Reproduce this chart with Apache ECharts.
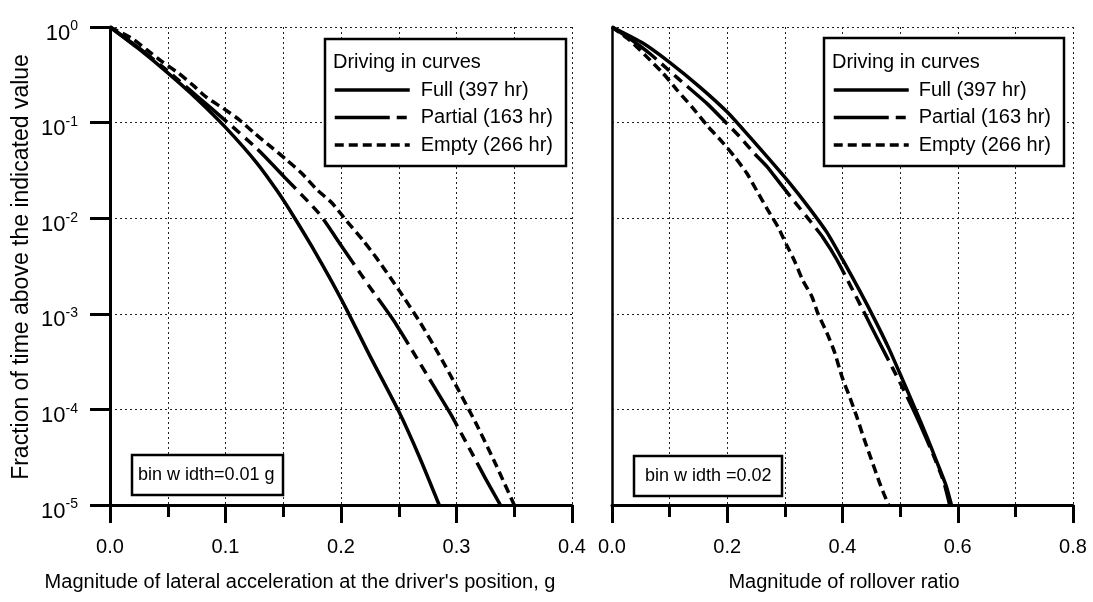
<!DOCTYPE html>
<html><head><meta charset="utf-8">
<script src="https://cdn.jsdelivr.net/npm/echarts@6/dist/echarts.min.js"></script>
<style>html,body{margin:0;padding:0;background:#fff}#c{width:1093px;height:602px}</style>
</head><body><div id="c"></div>
<script>
// ---------- data ----------
const seriesNames = ['Full (397 hr)', 'Partial (163 hr)', 'Empty (266 hr)'];
const legendTitle = 'Driving in curves';

// Left panel: lateral acceleration (g) vs fraction of time above
const latFullX = [0, 0.025, 0.05, 0.075, 0.1, 0.127, 0.145, 0.16, 0.175, 0.19, 0.205, 0.225, 0.25, 0.268, 0.285];
const latFullY = [1, 0.589, 0.331, 0.178, 0.0891, 0.038, 0.0191, 0.01, 0.005, 0.0024, 0.0011, 3.63e-4, 9.55e-5, 3.16e-5, 1e-5];

const latPartX = [0, 0.025, 0.05, 0.075, 0.1, 0.127, 0.151, 0.181, 0.201, 0.225, 0.245, 0.265, 0.28, 0.295, 0.313, 0.325, 0.338];
const latPartY = [1, 0.603, 0.347, 0.191, 0.105, 0.0537, 0.0269, 0.0112, 0.005, 0.0019, 8.7e-4, 3.55e-4, 1.78e-4, 8.9e-5, 3.55e-5, 1.9e-5, 1e-5];

const latEmptyX = [0, 0.019, 0.032, 0.046, 0.059, 0.071, 0.084, 0.098, 0.112, 0.125, 0.14, 0.153, 0.166, 0.179, 0.192, 0.205, 0.219, 0.231, 0.25, 0.268, 0.285, 0.3, 0.317, 0.332, 0.35];
const latEmptyY = [1, 0.759, 0.575, 0.427, 0.331, 0.251, 0.182, 0.141, 0.107, 0.0776, 0.055, 0.0407, 0.0295, 0.02, 0.0145, 0.00933, 0.00589, 0.0038, 0.00178, 8.3e-4, 3.72e-4, 1.74e-4, 7.1e-5, 3.0e-5, 1e-5];

// Right panel: rollover ratio vs fraction of time above
const rolFullX = [0, 0.054, 0.1, 0.153, 0.2, 0.239, 0.274, 0.308, 0.343, 0.373, 0.4, 0.43, 0.456, 0.48, 0.502, 0.525, 0.546, 0.563, 0.58, 0.589];
const rolFullY = [1, 0.676, 0.427, 0.234, 0.129, 0.0708, 0.0407, 0.0234, 0.0126, 0.0071, 0.0037, 0.00174, 8.7e-4, 4.4e-4, 2.2e-4, 1.05e-4, 5.25e-5, 2.9e-5, 1.58e-5, 1e-5];

const rolPartX = [0, 0.033, 0.066, 0.113, 0.165, 0.193, 0.222, 0.245, 0.269, 0.291, 0.317, 0.343, 0.366, 0.39, 0.433, 0.464, 0.487, 0.511, 0.534, 0.557, 0.575, 0.586];
const rolPartY = [1, 0.741, 0.525, 0.295, 0.158, 0.107, 0.0708, 0.049, 0.0347, 0.0234, 0.0148, 0.0095, 0.0063, 0.0037, 0.00117, 5e-4, 2.7e-4, 1.4e-4, 7.1e-5, 3.4e-5, 1.8e-5, 1e-5];

const rolEmptyX = [0, 0.031, 0.06, 0.088, 0.113, 0.139, 0.165, 0.191, 0.213, 0.234, 0.251, 0.27, 0.288, 0.303, 0.317, 0.331, 0.347, 0.357, 0.373, 0.386, 0.399, 0.413, 0.425, 0.437, 0.45, 0.463, 0.472, 0.48];
const rolEmptyY = [1, 0.724, 0.49, 0.331, 0.219, 0.145, 0.0933, 0.063, 0.0437, 0.0295, 0.0195, 0.0123, 0.0081, 0.00525, 0.00355, 0.00224, 0.00151, 0.00102, 6.3e-4, 4.0e-4, 2.2e-4, 1.32e-4, 8.3e-5, 5.0e-5, 3.0e-5, 1.8e-5, 1.3e-5, 1e-5];

const xTitleLeft = "Magnitude of lateral acceleration at the driver's position, g";
const xTitleRight = 'Magnitude of rollover ratio';
const yTitle = 'Fraction of time above the indicated value';
const binLeft = 'bin w idth=0.01 g';
const binRight = 'bin w idth =0.02';

// ---------- chart ----------
const FONT = '"Liberation Sans", Arial, Helvetica, sans-serif';
const pair = (xs, ys) => xs.map((x, i) => [x, ys[i]]);
const dashStyles = ['solid', [55, 7, 10, 7, 10, 7], [9, 5]];
const LW = 3.5;

const chart = echarts.init(document.getElementById('c'), null, {renderer: 'canvas'});

function yAxisCfg(idx, showLabels) {
  return {
    type: 'log', logBase: 10, min: 1e-5, max: 1, gridIndex: idx,
    axisLine: {show: true, lineStyle: {color: '#000', width: showLabels ? 3 : 2.5}},
    axisTick: {show: showLabels, length: 20, lineStyle: {color: '#000', width: 3}},
    minorTick: {show: false},
    splitLine: {show: true, lineStyle: {color: '#222', width: 1, type: [2, 3]}},
    axisLabel: {
      show: showLabels, margin: 32, padding: [7, 0, 0, 0],
      formatter: v => '{b|10}{s|' + Math.round(Math.log10(v)) + '}',
      rich: {
        b: {fontSize: 22, fontFamily: FONT, color: '#000', lineHeight: 22, padding: [6, 0, 0, 0]},
        s: {fontSize: 14, fontFamily: FONT, color: '#000', lineHeight: 14, verticalAlign: 'top'}
      }
    }
  };
}
function xAxisCfg(idx, max, interval) {
  return {
    type: 'value', min: 0, max: max, interval: interval, gridIndex: idx,
    axisLine: {show: true, onZero: false, lineStyle: {color: '#000', width: 3}},
    axisTick: {show: true, length: 18, lineStyle: {color: '#000', width: 3}},
    minorTick: {show: true, splitNumber: 2, length: 12, lineStyle: {color: '#000', width: 3}},
    splitLine: {show: true, lineStyle: {color: '#222', width: 1, type: [2, 3]}},
    minorSplitLine: {show: true, lineStyle: {color: '#222', width: 1, type: [2, 3]}},
    axisLabel: {fontSize: 20, fontFamily: FONT, color: '#000', margin: 32, formatter: v => v.toFixed(1)}
  };
}
function mkSeries(name, xs, ys, idx, k) {
  return {
    name: name, type: 'line', xAxisIndex: idx, yAxisIndex: idx,
    data: pair(xs, ys), symbol: 'none', showSymbol: false,
    smooth: 0.2,
    lineStyle: {color: '#000', width: LW, type: dashStyles[k], join: 'round'},
    itemStyle: {color: '#000'}, z: 2, silent: true
  };
}
function legendCfg(left, pad) {
  return {
    orient: 'vertical', left: left, top: 80, padding: 0,
    itemWidth: 75, itemHeight: 14, itemGap: 7.5, selectedMode: false,
    data: seriesNames, z: 6,
    itemStyle: {color: 'rgba(0,0,0,0)', borderWidth: 0, opacity: 0},
    lineStyle: {width: LW, color: '#000'},
    textStyle: {fontSize: 20, fontFamily: FONT, color: '#000', lineHeight: 20, padding: [0, 0, 0, pad]}
  };
}
function boxText(x, y, w, h, tx, ty, text, size) {
  return [
    {type: 'rect', z: 5, shape: {x: x, y: y, width: w, height: h}, style: {fill: '#fff', stroke: '#000', lineWidth: 2.5}},
    {type: 'text', z: 6, x: tx, y: ty, style: {text: text, font: size + 'px ' + FONT, fill: '#000', textAlign: 'left', textVerticalAlign: 'middle'}}
  ];
}

const option = {
  backgroundColor: '#fff',
  animation: false,
  grid: [
    {left: 110, top: 27, width: 462, height: 478},
    {left: 612, top: 27, width: 461, height: 478}
  ],
  xAxis: [xAxisCfg(0, 0.4, 0.1), xAxisCfg(1, 0.8, 0.2)],
  yAxis: [yAxisCfg(0, true), yAxisCfg(1, false)],
  legend: [legendCfg(333, 6), legendCfg(832, 5)],
  series: [
    mkSeries(seriesNames[0], latFullX, latFullY, 0, 0),
    mkSeries(seriesNames[1], latPartX, latPartY, 0, 1),
    mkSeries(seriesNames[2], latEmptyX, latEmptyY, 0, 2),
    mkSeries(seriesNames[0], rolFullX, rolFullY, 1, 0),
    mkSeries(seriesNames[1], rolPartX, rolPartY, 1, 1),
    mkSeries(seriesNames[2], rolEmptyX, rolEmptyY, 1, 2)
  ],
  graphic: [].concat(
    boxText(325, 39, 241, 127, 333, 62, legendTitle, 20),
    boxText(824, 38, 240, 128, 832, 62, legendTitle, 20),
    boxText(132, 455, 151, 40, 138, 475, binLeft, 18),
    boxText(634, 456, 148, 40, 645, 476, binRight, 18),
    [
      {type: 'text', x: 300, y: 582, style: {text: xTitleLeft, font: '20px ' + FONT, fill: '#000', textAlign: 'center', textVerticalAlign: 'middle'}},
      {type: 'text', x: 844, y: 582, style: {text: xTitleRight, font: '20px ' + FONT, fill: '#000', textAlign: 'center', textVerticalAlign: 'middle'}},
      {type: 'text', x: 22, y: 267, rotation: Math.PI / 2, style: {text: yTitle, font: '23px ' + FONT, fill: '#000', textAlign: 'center', textVerticalAlign: 'middle'}}
    ]
  )
};
chart.setOption(option);
</script>
</body></html>
